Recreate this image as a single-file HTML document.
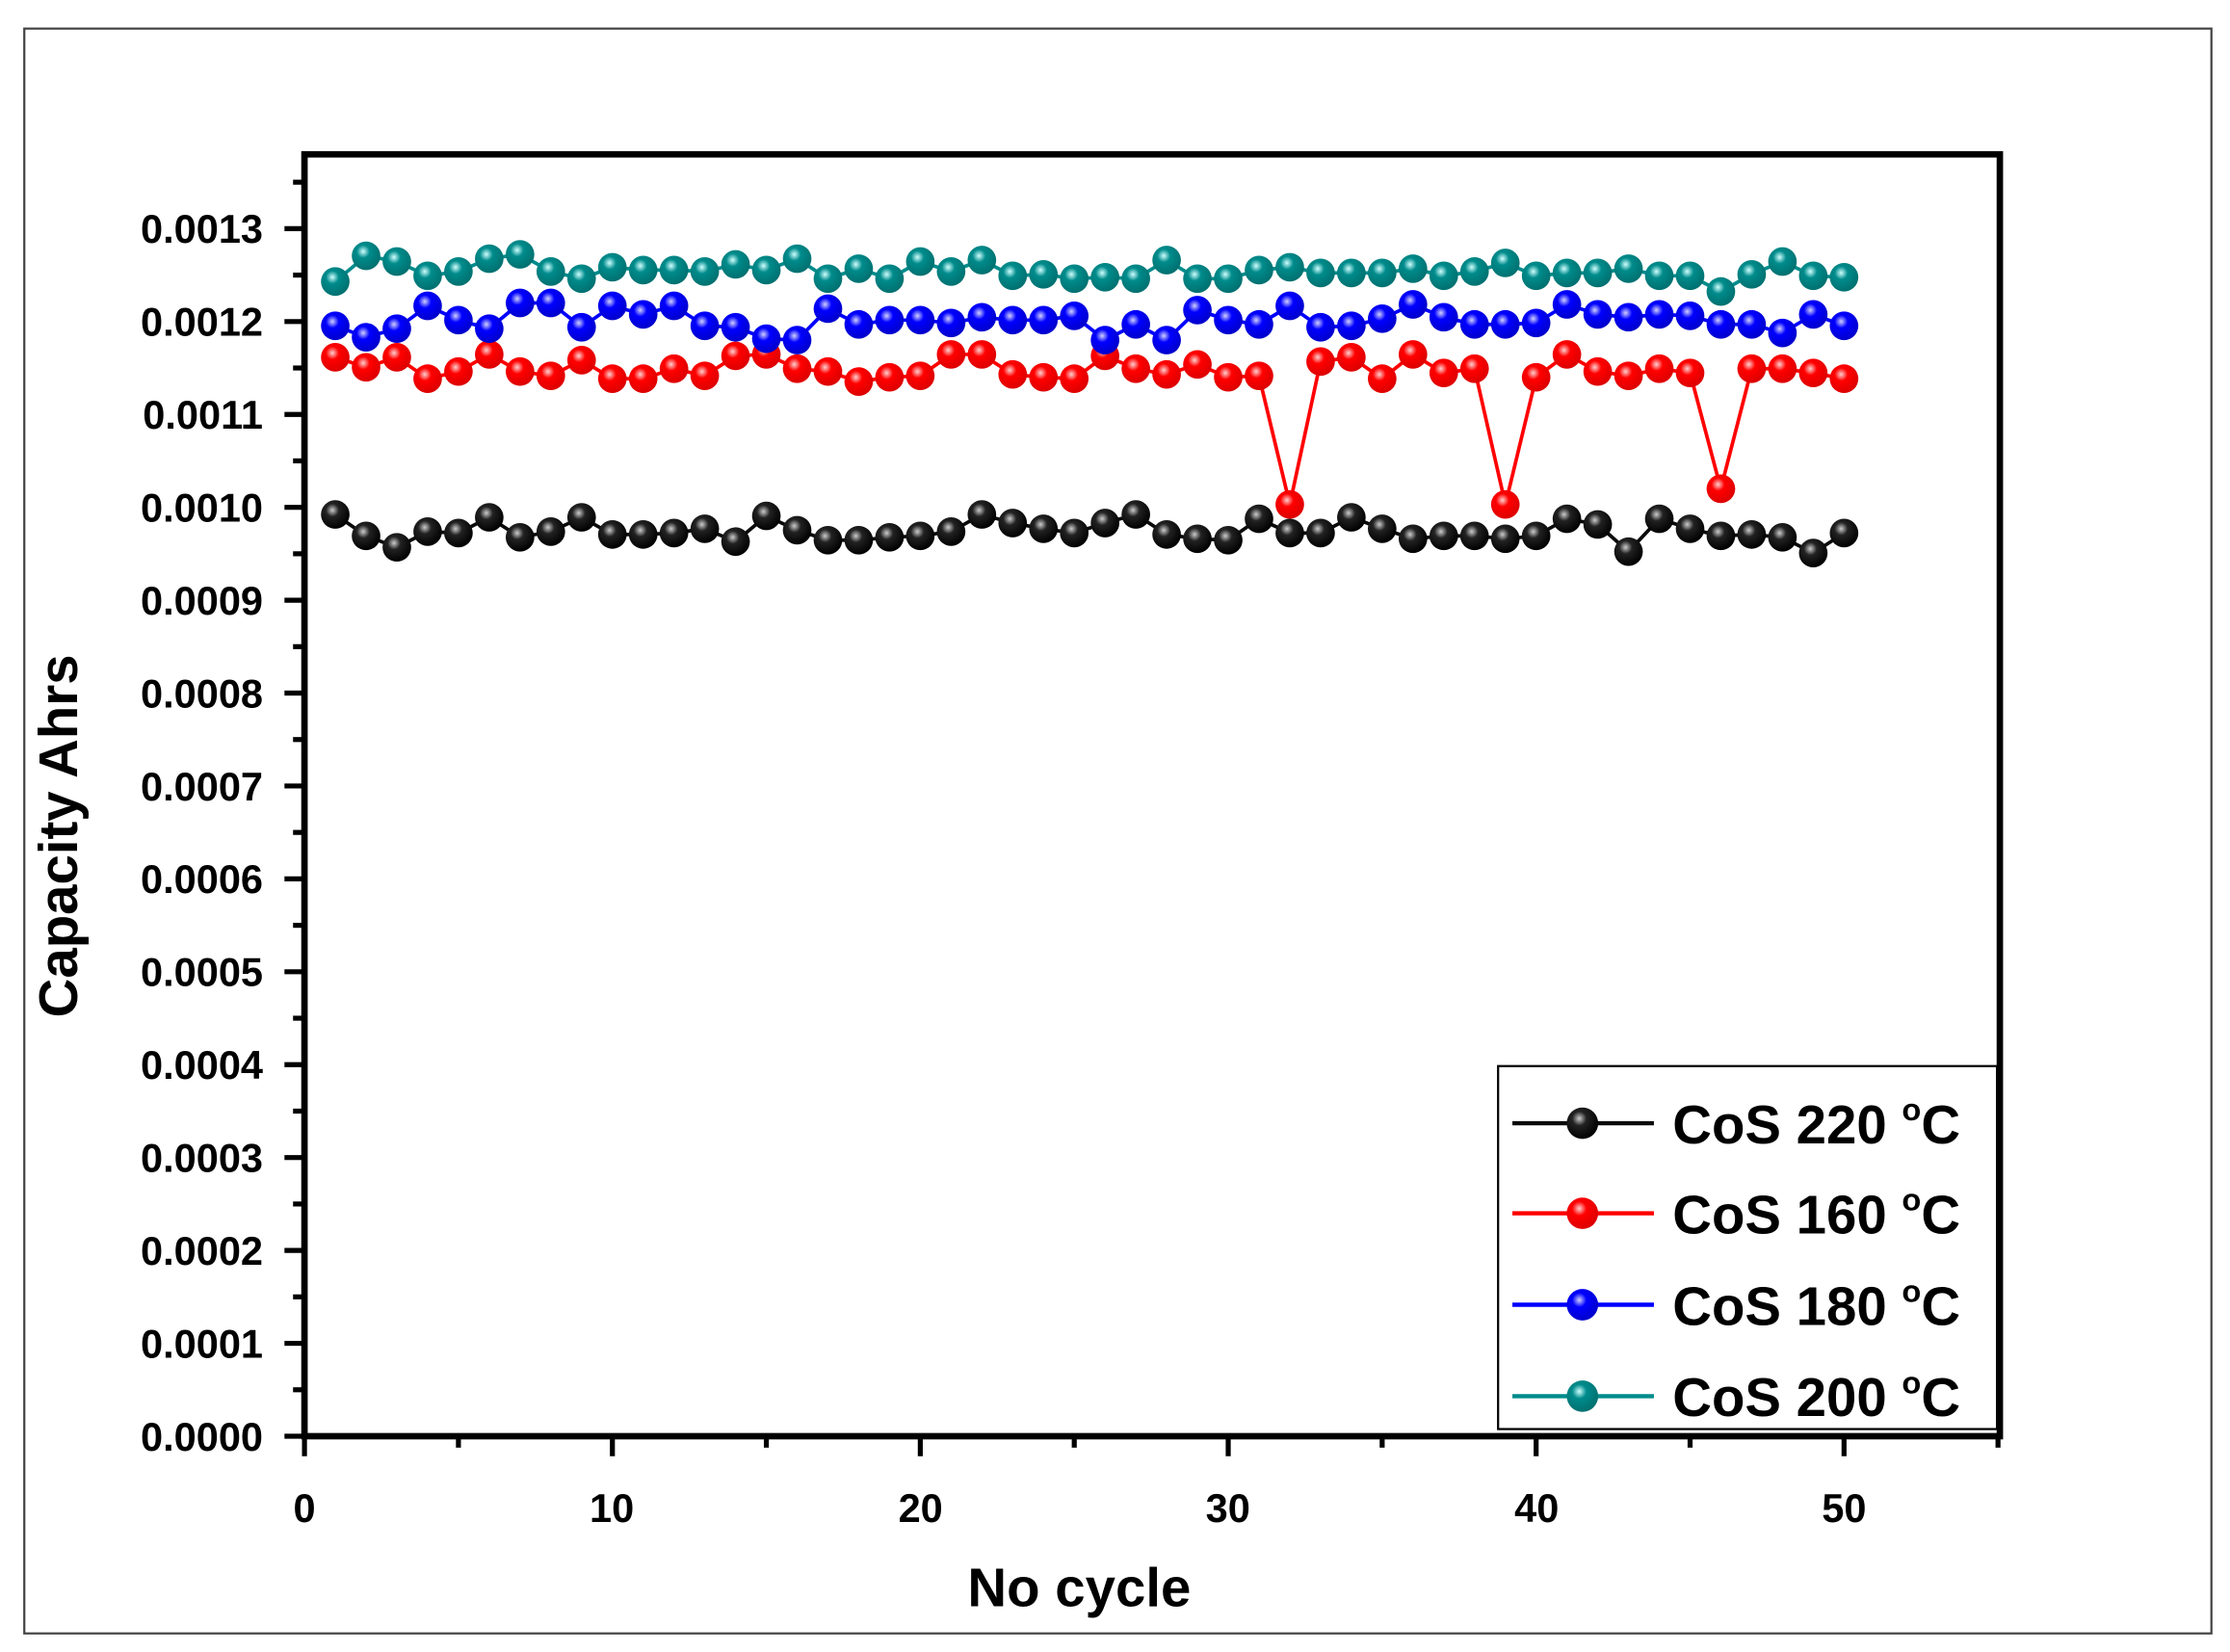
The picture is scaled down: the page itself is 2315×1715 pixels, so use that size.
<!DOCTYPE html>
<html><head><meta charset="utf-8"><style>html,body{margin:0;padding:0;background:#fff}svg{display:block}</style></head>
<body>
<svg id="s" width="2315" height="1715" viewBox="0 0 1560 1156" preserveAspectRatio="none" xmlns="http://www.w3.org/2000/svg" font-family="Liberation Sans, Arial, sans-serif" font-weight="bold">
<defs>
<radialGradient id="gk" cx="0.4" cy="0.35" r="0.65"><stop offset="0" stop-color="#ccc"/><stop offset="0.35" stop-color="#222"/><stop offset="1" stop-color="#000"/></radialGradient>
<radialGradient id="gr" cx="0.4" cy="0.35" r="0.65"><stop offset="0" stop-color="#ffd0d0"/><stop offset="0.35" stop-color="#f00"/><stop offset="1" stop-color="#d00"/></radialGradient>
<radialGradient id="gb" cx="0.4" cy="0.35" r="0.65"><stop offset="0" stop-color="#d0d0ff"/><stop offset="0.35" stop-color="#00f"/><stop offset="1" stop-color="#00c"/></radialGradient>
<radialGradient id="gt" cx="0.4" cy="0.35" r="0.65"><stop offset="0" stop-color="#d0ffff"/><stop offset="0.35" stop-color="#008b8b"/><stop offset="1" stop-color="#007070"/></radialGradient>
</defs>
<rect x="17" y="20" width="1530" height="1123" fill="#fff" stroke="#444" stroke-width="1.5"/>
<g id="ticks" stroke="#000" stroke-width="3.5"></g>
<g id="series"></g>
<rect x="213" y="108" width="1186" height="897" fill="none" stroke="#000" stroke-width="4.5"/>
<g font-size="28" text-anchor="end">
<text x="184" y="170">0.0013</text><text x="184" y="235">0.0012</text><text x="184" y="300">0.0011</text><text x="184" y="365">0.0010</text><text x="184" y="430">0.0009</text><text x="184" y="495">0.0008</text><text x="184" y="560">0.0007</text><text x="184" y="625">0.0006</text><text x="184" y="690">0.0005</text><text x="184" y="755">0.0004</text><text x="184" y="820">0.0003</text><text x="184" y="885">0.0002</text><text x="184" y="950">0.0001</text><text x="184" y="1015">0.0000</text>
</g>
<g font-size="28" text-anchor="middle">
<text x="213" y="1065">0</text><text x="428" y="1065">10</text><text x="644" y="1065">20</text><text x="859" y="1065">30</text><text x="1075" y="1065">40</text><text x="1290" y="1065">50</text>
</g>
<text x="755" y="1124" font-size="38" text-anchor="middle">No cycle</text>
<text transform="translate(54,585) rotate(-90)" font-size="38" text-anchor="middle">Capacity Ahrs</text>
<rect x="1048" y="746" width="349" height="254" fill="#fff" stroke="#000" stroke-width="1.5"/>
<g id="leg"></g>
<g font-size="38">
<text x="1170" y="800">CoS 220 <tspan font-size="22" dy="-16">o</tspan><tspan dy="16">C</tspan></text>
<text x="1170" y="863">CoS 160 <tspan font-size="22" dy="-16">o</tspan><tspan dy="16">C</tspan></text>
<text x="1170" y="927">CoS 180 <tspan font-size="22" dy="-16">o</tspan><tspan dy="16">C</tspan></text>
<text x="1170" y="991">CoS 200 <tspan font-size="22" dy="-16">o</tspan><tspan dy="16">C</tspan></text>
</g>
</svg>
<script>
var NS="http://www.w3.org/2000/svg";
function el(p,t,a){var e=document.createElementNS(NS,t);for(var k in a)e.setAttribute(k,a[k]);p.appendChild(e);return e;}
var tk=document.getElementById("ticks");
for(var i=0;i<=27;i++){var y=1005-i*32.5;if(y<110)break;var maj=i%2==0;el(tk,"line",{x1:maj?199:205,x2:213,y1:y,y2:y});}
for(var i=0;i<=11;i++){var x=213+i*5*21.54;var maj=i%2==0;el(tk,"line",{x1:x,x2:x,y1:1005,y2:maj?1019:1013});}
var S=[
["#0a0a0a","gk",[360,375,383,372,373,362,376,372,362,374,374,373,370,379,361,371,378,378,376,375,372,360,366,370,373,366,360,374,377,378,363,373,373,362,370,377,375,375,377,375,363,367,386,363,370,375,374,376,387,373]],
["#f00","gr",[250,257,250,265,260,248,260,263,252,265,265,258,263,249,248,258,260,267,264,263,248,248,262,264,265,249,258,262,255,264,263,353,253,250,265,248,261,258,353,264,248,260,263,258,261,342,258,258,261,265]],
["#00f","gb",[228,236,230,214,224,230,212,212,229,214,220,214,228,229,237,238,216,227,224,224,226,222,224,224,221,238,227,238,217,224,227,214,229,228,223,213,222,227,227,226,213,220,222,220,221,227,227,233,220,228]],
["#008b8b","gt",[197,179,183,193,190,181,178,190,195,187,189,189,190,185,189,181,195,188,195,183,190,182,193,192,195,194,195,182,195,195,189,187,191,191,191,188,193,190,184,193,191,191,188,193,193,204,192,183,193,194]]
];
var g=document.getElementById("series"),lg=document.getElementById("leg");
[1,0,2,3].forEach(function(k){});
var order=[0,1,2,3];
for(var s=0;s<4;s++){var d=S[s],pts=[];for(var i=0;i<50;i++)pts.push((213+(i+1)*21.54).toFixed(1)+","+d[2][i]);
el(g,"polyline",{points:pts.join(" "),fill:"none",stroke:d[0],"stroke-width":2.5});}
for(var s=0;s<4;s++){var d=S[s];for(var i=0;i<50;i++)el(g,"ellipse",{cx:213+(i+1)*21.54,cy:d[2][i],rx:10,ry:10,fill:"url(#"+d[1]+")"});}
var ly=[786,849,913,977];
for(var s=0;s<4;s++){var d=S[s];el(lg,"line",{x1:1058,x2:1157,y1:ly[s],y2:ly[s],stroke:d[0],"stroke-width":3});el(lg,"ellipse",{cx:1107,cy:ly[s],rx:11,ry:11,fill:"url(#"+d[1]+")"});}
</script>
</body></html>
